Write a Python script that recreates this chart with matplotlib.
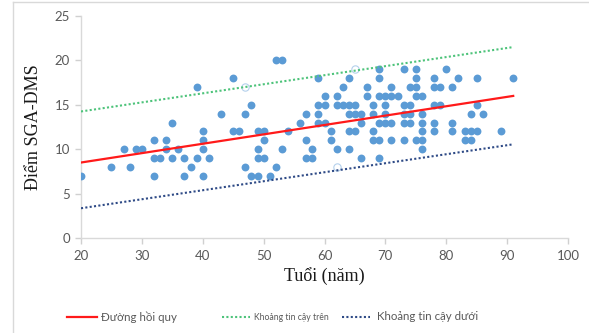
import matplotlib
matplotlib.use("Agg")
import matplotlib.pyplot as plt
from matplotlib.lines import Line2D

# ---- data (age, score) grouped by score row ----
row20 = [52, 53]
row19 = [69, 73, 75, 80]
row18 = [45, 59, 64, 69, 75, 78, 82, 85, 91]
row17 = [39, 63, 67, 71, 74, 75, 78, 79, 81]
row16 = [60, 62, 67, 69, 70, 71, 72, 75, 76]
row15 = [48, 59, 60, 62, 63, 64, 65, 68, 70, 73, 74, 78, 79, 85]
row14 = [43, 47, 57, 59, 64, 65, 66, 68, 70, 73, 74, 76, 84, 86]
row13 = [35, 56, 59, 60, 66, 69, 70, 71, 73, 74, 76, 78, 81]
row12 = [40, 45, 46, 49, 50, 54, 61, 64, 65, 68, 76, 78, 81, 83, 84, 85, 89]
row11 = [32, 34, 40, 50, 57, 61, 68, 69, 71, 73, 75, 76, 83, 84]
row10 = [27, 29, 30, 34, 36, 40, 49, 53, 58, 62, 64, 76]
row9 = [32, 33, 35, 37, 39, 41, 49, 50, 57, 58, 66, 69]
row8 = [25, 28, 38, 47, 52]
row7 = [20, 32, 37, 40, 48, 49, 51]

rows = {20: row20, 19: row19, 18: row18, 17: row17, 16: row16, 15: row15,
        14: row14, 13: row13, 12: row12, 11: row11, 10: row10, 9: row9,
        8: row8, 7: row7}

# faint (hollow-looking) points
faint_age = [47, 65, 62]
faint_score = [17, 19, 8]

# regression line and confidence bounds (end points)
line_x = [20, 91]
reg_y = [8.5, 16.0]
upper_y = [14.25, 21.5]
lower_y = [3.35, 10.55]

x_ticks = [20, 30, 40, 50, 60, 70, 80, 90, 100]
y_ticks = [0, 5, 10, 15, 20, 25]

legend_labels = ["Đường hồi quy", "Khoảng tin cậy trên", "Khoảng tin cậy dưới"]

ages, scores = [], []
for s, xs in rows.items():
    for a in xs:
        ages.append(a)
        scores.append(s)

W, H = 589, 333
fig = plt.figure(figsize=(W/100, H/100), dpi=100)
ax = fig.add_axes([81/W, 1-238/H, (568-81)/W, (238-16)/H])

ax.scatter(ages, scores, s=32, color="#5B9BD5", linewidths=0, zorder=3)
ax.scatter(faint_age, faint_score, s=28, facecolor="white",
           edgecolor="#B4D0EC", linewidths=0.8, zorder=3)

RED, GREEN, NAVY = "#FF1A1A", "#4DC37A", "#2E4A86"
DOT = (0, (1, 1.1))
ax.plot(line_x, reg_y, color=RED, lw=1.6, zorder=4)
ax.plot(line_x, upper_y, color=GREEN, lw=1.5, ls=DOT, zorder=4)
ax.plot(line_x, lower_y, color=NAVY, lw=1.5, ls=DOT, zorder=4)

ax.set_xlim(20, 100)
ax.set_ylim(0, 25)
ax.set_xticks(x_ticks)
ax.set_yticks(y_ticks)
for sp in ["top", "right"]:
    ax.spines[sp].set_visible(False)
for sp in ["left", "bottom"]:
    ax.spines[sp].set_color("#D9D9D9")
    ax.spines[sp].set_linewidth(1.0)
ax.tick_params(axis="both", colors="#D0D0D0", length=4, width=1,
               labelcolor="#595959", labelsize=9.5)
for lab in ax.get_xticklabels() + ax.get_yticklabels():
    lab.set_family("Lato")
ax.tick_params(axis="x", pad=5)
ax.tick_params(axis="y", pad=4)

ax.set_ylabel("Điểm SGA-DMS", family="Liberation Serif", fontsize=13,
              color="#1A1A1A", labelpad=9)
ax.set_xlabel("Tuổi (năm)", family="Liberation Serif", fontsize=13,
              color="#1A1A1A", labelpad=3)

# manual legend (pixel positions in figure)
ly = 1 - 317/H
leg_items = [
    (67, 97, 101, RED, "-", 8.3),
    (222, 250, 254, GREEN, DOT, 6.2),
    (342, 370, 377, NAVY, DOT, 8.3),
]
for (x0, x1, xt, col, ls, fs), lab in zip(leg_items, legend_labels):
    fig.add_artist(Line2D([x0/W, x1/W], [ly, ly], color=col, lw=1.6 if ls == "-" else 1.5,
                          ls=ls, transform=fig.transFigure))
    fig.text(xt/W, ly, lab, ha="left", va="center", fontsize=fs,
             family="Lato", color="#595959")

# outer chart border (partially visible)
fig.add_artist(Line2D([13/W, 13/W], [0, 1-2/H], color="#D9D9D9", lw=1,
                      transform=fig.transFigure))
fig.add_artist(Line2D([13/W, 1], [1-2/H, 1-2/H], color="#D9D9D9", lw=1,
                      transform=fig.transFigure))

fig.savefig("out.png", dpi=100)
